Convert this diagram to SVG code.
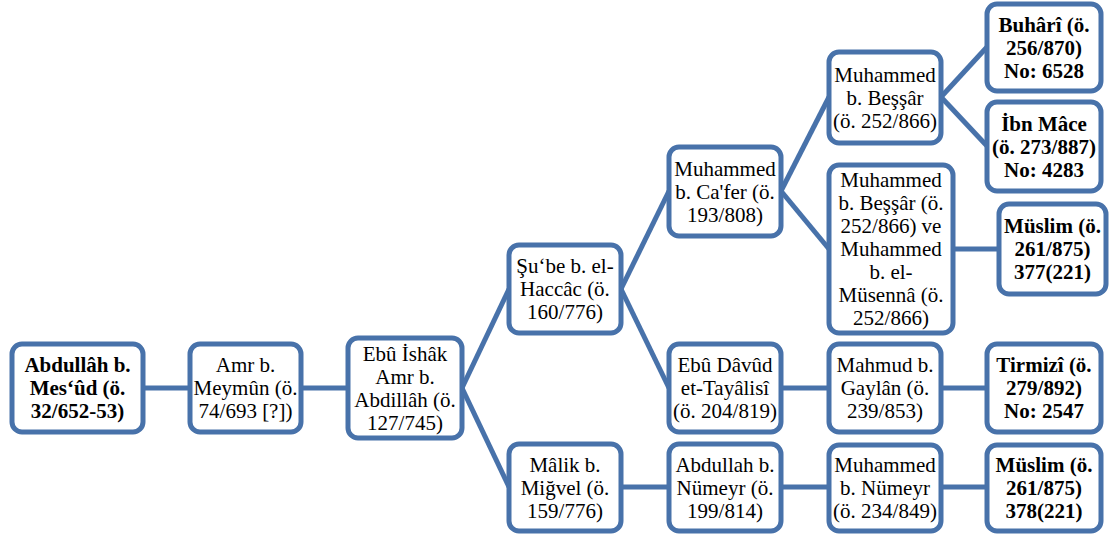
<svg xmlns="http://www.w3.org/2000/svg" width="1110" height="540" viewBox="0 0 1110 540">
<style>
.box{fill:#fff;stroke:#4872aa;stroke-width:5}
.ln{stroke:#4872aa;stroke-width:5;fill:none}
.t{font-family:'Liberation Serif','DejaVu Serif',serif;font-size:21px;fill:#000;text-anchor:middle}
.b{font-weight:bold}
</style>
<rect width="1110" height="540" fill="#fff"/>
<g id="connectors">
<line class="ln" x1="143" y1="388" x2="190" y2="388"/>
<line class="ln" x1="301" y1="388" x2="348" y2="388"/>
<line class="ln" x1="462" y1="388" x2="509" y2="289"/>
<line class="ln" x1="462" y1="388" x2="509" y2="487"/>
<line class="ln" x1="621" y1="289" x2="669" y2="191"/>
<line class="ln" x1="621" y1="289" x2="669" y2="388"/>
<line class="ln" x1="781" y1="191" x2="829" y2="97"/>
<line class="ln" x1="781" y1="191" x2="829" y2="249"/>
<line class="ln" x1="941" y1="97" x2="987" y2="47"/>
<line class="ln" x1="941" y1="97" x2="987" y2="146"/>
<line class="ln" x1="953" y1="249" x2="999" y2="249"/>
<line class="ln" x1="781" y1="388" x2="829" y2="388"/>
<line class="ln" x1="941" y1="388" x2="987" y2="388"/>
<line class="ln" x1="621" y1="487" x2="669" y2="487"/>
<line class="ln" x1="781" y1="487" x2="829" y2="487"/>
<line class="ln" x1="941" y1="487" x2="987" y2="487"/>
</g>
<g font-family="Liberation Serif, DejaVu Serif, serif">
<g id="n1"><rect class="box" x="12" y="344" width="131" height="88" rx="10"/>
<text class="t b" x="77.5"><tspan x="77.5" y="372">Abdullâh b.</tspan><tspan x="77.5" y="395">Mes‘ûd (ö.</tspan><tspan x="77.5" y="418">32/652-53)</tspan></text></g>
<g id="n2"><rect class="box" x="190" y="344" width="111" height="88" rx="10"/>
<text class="t" x="245.5"><tspan x="245.5" y="372">Amr b.</tspan><tspan x="245.5" y="395">Meymûn (ö.</tspan><tspan x="245.5" y="418">74/693 [?])</tspan></text></g>
<g id="n3"><rect class="box" x="348" y="338" width="114" height="100" rx="10"/>
<text class="t" x="405"><tspan x="405" y="360.5">Ebû İshâk</tspan><tspan x="405" y="383.5">Amr b.</tspan><tspan x="405" y="406.5">Abdillâh (ö.</tspan><tspan x="405" y="429.5">127/745)</tspan></text></g>
<g id="n4"><rect class="box" x="509" y="245" width="112" height="88" rx="10"/>
<text class="t" x="565"><tspan x="565" y="273">Şu‘be b. el-</tspan><tspan x="565" y="296">Haccâc (ö.</tspan><tspan x="565" y="319">160/776)</tspan></text></g>
<g id="n5"><rect class="box" x="669" y="147" width="112" height="89" rx="10"/>
<text class="t" x="725"><tspan x="725" y="175.5">Muhammed</tspan><tspan x="725" y="198.5">b. Ca'fer (ö.</tspan><tspan x="725" y="221.5">193/808)</tspan></text></g>
<g id="n6"><rect class="box" x="669" y="344" width="112" height="88" rx="10"/>
<text class="t" x="725"><tspan x="725" y="372">Ebû Dâvûd</tspan><tspan x="725" y="395">et-Tayâlisî</tspan><tspan x="725" y="418">(ö. 204/819)</tspan></text></g>
<g id="n7"><rect class="box" x="509" y="444" width="112" height="87" rx="10"/>
<text class="t" x="565"><tspan x="565" y="471.5">Mâlik b.</tspan><tspan x="565" y="494.5">Miğvel (ö.</tspan><tspan x="565" y="517.5">159/776)</tspan></text></g>
<g id="n8"><rect class="box" x="669" y="444" width="112" height="87" rx="10"/>
<text class="t" x="725"><tspan x="725" y="471.5">Abdullah b.</tspan><tspan x="725" y="494.5">Nümeyr (ö.</tspan><tspan x="725" y="517.5">199/814)</tspan></text></g>
<g id="n9"><rect class="box" x="829" y="52" width="112" height="91" rx="10"/>
<text class="t" x="885"><tspan x="885" y="81.5">Muhammed</tspan><tspan x="885" y="104.5">b. Beşşâr</tspan><tspan x="885" y="127.5">(ö. 252/866)</tspan></text></g>
<g id="n10"><rect class="box" x="987" y="4" width="114" height="87" rx="10"/>
<text class="t b" x="1044"><tspan x="1044" y="31.5">Buhârî (ö.</tspan><tspan x="1044" y="54.5">256/870)</tspan><tspan x="1044" y="77.5">No: 6528</tspan></text></g>
<g id="n11"><rect class="box" x="987" y="102" width="114" height="89" rx="10"/>
<text class="t b" x="1044"><tspan x="1044" y="130.5">İbn Mâce</tspan><tspan x="1044" y="153.5">(ö. 273/887)</tspan><tspan x="1044" y="176.5">No: 4283</tspan></text></g>
<g id="n12"><rect class="box" x="829" y="165" width="124" height="168" rx="10"/>
<text class="t" x="891"><tspan x="891" y="187">Muhammed</tspan><tspan x="891" y="210">b. Beşşâr (ö.</tspan><tspan x="891" y="233">252/866) ve</tspan><tspan x="891" y="256">Muhammed</tspan><tspan x="891" y="279">b. el-</tspan><tspan x="891" y="302">Müsennâ (ö.</tspan><tspan x="891" y="325">252/866)</tspan></text></g>
<g id="n13"><rect class="box" x="999" y="204" width="107" height="90" rx="10"/>
<text class="t b" x="1052.5"><tspan x="1052.5" y="233">Müslim (ö.</tspan><tspan x="1052.5" y="256">261/875)</tspan><tspan x="1052.5" y="279">377(221)</tspan></text></g>
<g id="n14"><rect class="box" x="829" y="344" width="112" height="88" rx="10"/>
<text class="t" x="885"><tspan x="885" y="372">Mahmud b.</tspan><tspan x="885" y="395">Gaylân (ö.</tspan><tspan x="885" y="418">239/853)</tspan></text></g>
<g id="n15"><rect class="box" x="987" y="344" width="114" height="88" rx="10"/>
<text class="t b" x="1044"><tspan x="1044" y="372">Tirmizî (ö.</tspan><tspan x="1044" y="395">279/892)</tspan><tspan x="1044" y="418">No: 2547</tspan></text></g>
<g id="n16"><rect class="box" x="829" y="445" width="112" height="86" rx="10"/>
<text class="t" x="885"><tspan x="885" y="472">Muhammed</tspan><tspan x="885" y="495">b. Nümeyr</tspan><tspan x="885" y="518">(ö. 234/849)</tspan></text></g>
<g id="n17"><rect class="box" x="987" y="445" width="114" height="86" rx="10"/>
<text class="t b" x="1044"><tspan x="1044" y="472">Müslim (ö.</tspan><tspan x="1044" y="495">261/875)</tspan><tspan x="1044" y="518">378(221)</tspan></text></g>
</g>
</svg>
